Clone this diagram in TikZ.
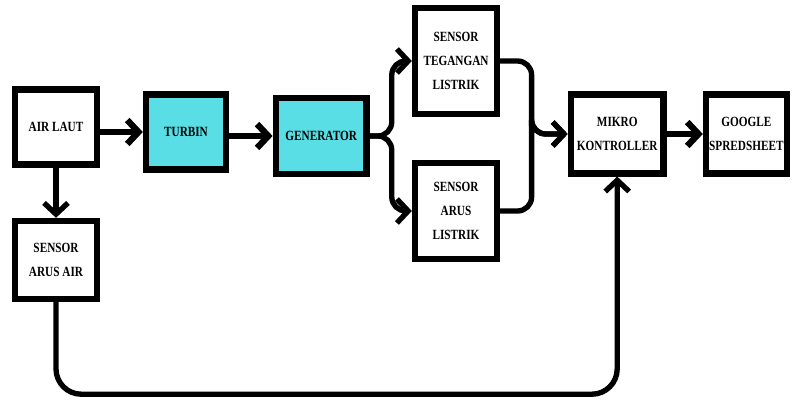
\documentclass[tikz,border=0pt]{standalone}
\usepackage{fontspec}
\usepackage{xcolor}
\usetikzlibrary{arrows.meta}
\setmainfont{Liberation Serif}[FakeStretch=0.8]
\definecolor{turq}{RGB}{88,222,228}

\begin{document}
\begin{tikzpicture}[line width=4.5pt,
    block/.style={draw, rectangle, align=center, inner sep=2pt,
        font=\rmfamily\bfseries\fontsize{10}{17}\selectfont},
    arr/.style={-{Straight Barb[length=8pt, width=17pt]}, rounded corners=10pt}]
    \useasboundingbox (0,0) rectangle (19.8,9.975);

    % Nodes
    \node[block, minimum width=2.05cm, minimum height=1.88cm] (air) at (1.4,6.8) {AIR LAUT};
    \node[block, fill=turq, minimum width=2.0cm, minimum height=1.88cm] (turbin) at (4.65,6.675) {TURBIN};
    \node[block, fill=turq, minimum width=2.27cm, minimum height=1.9cm] (gen) at (8.03,6.575) {GENERATOR};
    \node[block, minimum width=2.05cm, minimum height=2.65cm] (teg) at (11.4,8.45) {SENSOR\\TEGANGAN\\LISTRIK};
    \node[block, minimum width=2.05cm, minimum height=2.4cm] (arus) at (11.4,4.7) {SENSOR\\ARUS\\LISTRIK};
    \node[block, minimum width=2.32cm, minimum height=1.97cm] (mikro) at (15.43,6.625) {MIKRO\\KONTROLLER};
    \node[block, minimum width=2.02cm, minimum height=1.97cm] (google) at (18.66,6.625) {GOOGLE\\SPREDSHEET};
    \node[block, minimum width=2.05cm, minimum height=1.95cm] (sair) at (1.4,3.475) {SENSOR\\ARUS AIR};
    \coordinate (low) at (0,0.12);

    % Connections
    \draw[arr] (air.east |- turbin.west) -- (turbin.west);
    \draw[arr] (turbin.east |- gen.west) -- (gen.west);
    \draw[arr, line width=3.8pt] (gen.east) -- ++(0.55,0) |- (teg.west);
    \draw[arr, line width=3.8pt] (gen.east) -- ++(0.55,0) |- (arus.west);
    \draw[arr, line width=3.8pt] (teg.east) -| ([xshift=-0.9cm]mikro.west) |- (mikro.west);
    \draw[arr, line width=3.8pt] (arus.east) -| ([xshift=-0.9cm]mikro.west) |- (mikro.west);
    \draw[arr] (mikro) -- (google);
    \draw[arr, line width=3.8pt] (air) -- (sair);
    \draw[arr, line width=3.8pt, rounded corners=18pt] (sair.south) -- (sair.south |- low) -| (mikro.south);
\end{tikzpicture}
\end{document}
